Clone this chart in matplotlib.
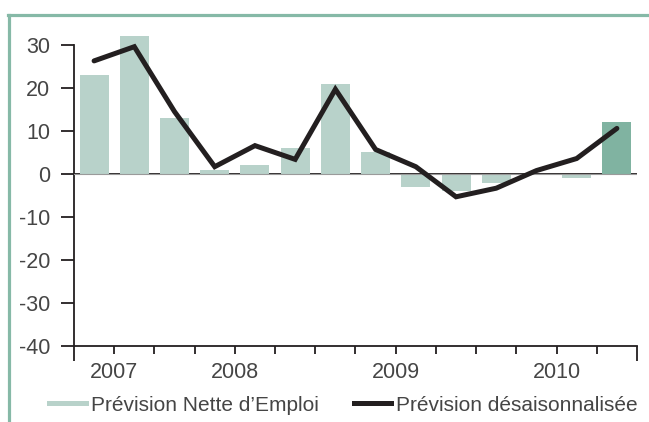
import matplotlib
matplotlib.use("Agg")
import matplotlib.pyplot as plt
from matplotlib.lines import Line2D
import numpy as np

plt.rcParams['font.family'] = ['Liberation Sans', 'DejaVu Sans']

# Data (quarterly, 2007 Q1 ... 2010 Q2)
nette = [23, 32, 13, 1, 2, 6, 21, 5, -3, -4, -2, 0, -1, 12]
desaison = [26.3, 29.6, 14.5, 1.7, 6.6, 3.4, 19.7, 5.7, 1.7, -5.3, -3.3, 0.8, 3.6, 10.6]
year_labels = ['2007', '2008', '2009', '2010']
year_pos = [0.5, 3.5, 7.5, 11.5]
yticks = [30, 20, 10, 0, -10, -20, -30, -40]

light = '#b8d2ca'
dark_bar = '#80b3a1'
frame_col = '#86b9a7'
txt = '#454545'

fig = plt.figure(figsize=(6.49, 4.22), dpi=100)
ax = fig.add_axes([0.114, 0.180, 0.8675, 0.744])

x = np.arange(len(nette))
colors = [light] * (len(nette) - 1) + [dark_bar]
bars = ax.bar(x, nette, width=0.72, color=colors, zorder=2, label='Prévision Nette d\u2019Emploi')
ax.axhline(0, color='#231f20', lw=1.3, zorder=1)
ax.axhline(0, color='#9a9a9a', lw=0.8, zorder=3)
line, = ax.plot(x, desaison, color='#231f20', lw=3.6, zorder=4,
                solid_capstyle='round', solid_joinstyle='miter',
                label='Prévision désaisonnalisée')

ax.set_xlim(-0.5, len(nette) - 0.5)
ax.set_ylim(-40, 33)
for s in ['top', 'right']:
    ax.spines[s].set_visible(False)
ax.spines['left'].set_bounds(-40, 30)
for s in ['left', 'bottom']:
    ax.spines[s].set_color('#231f20')
    ax.spines[s].set_linewidth(1.3)

ax.set_yticks(yticks)
ax.set_yticklabels([str(v) for v in yticks])
ax.tick_params(axis='y', direction='out', length=9.5, width=1.3, color='#231f20',
               labelsize=15.5, labelcolor=txt, pad=7.5)

# x: long end ticks (major), short inner ticks (minor) carrying year labels
ax.set_xticks([-0.5, len(nette) - 0.5])
ax.set_xticklabels(['', ''])
minor_pos = np.arange(0.5, len(nette) - 0.5, 1.0)
minor_labels = []
for p in minor_pos:
    lab = ''
    for yp, yl in zip(year_pos, year_labels):
        if abs(yp - p) < 1e-6:
            lab = yl
    minor_labels.append(lab)
ax.set_xticks(minor_pos, minor=True)
ax.set_xticklabels(minor_labels, minor=True)
ax.tick_params(axis='x', which='major', direction='out', length=10.5, width=1.3, color='#231f20')
ax.tick_params(axis='x', which='minor', direction='out', length=6, width=1.3, color='#231f20',
               labelsize=15.5, labelcolor=txt, pad=5.5)

# frame lines
fig.add_artist(Line2D([0.0125, 1.0], [0.9645, 0.9645], transform=fig.transFigure,
                      color=frame_col, lw=2.3))
fig.add_artist(Line2D([0.0138, 0.0138], [0.0, 0.9645], transform=fig.transFigure,
                      color=frame_col, lw=2.3))

h1 = Line2D([], [], color=light, lw=3.6)
h2 = Line2D([], [], color='#231f20', lw=3.6)
leg = fig.legend([h1, h2], ['Prévision Nette d\u2019Emploi', 'Prévision désaisonnalisée'],
                 loc='center', bbox_to_anchor=(0.529, 0.04), ncol=2, frameon=False,
                 fontsize=15, handlelength=1.75, handletextpad=0.25, columnspacing=1.7,
                 borderaxespad=0)
for t in leg.get_texts():
    t.set_color(txt)

fig.savefig('out.png', dpi=100)
